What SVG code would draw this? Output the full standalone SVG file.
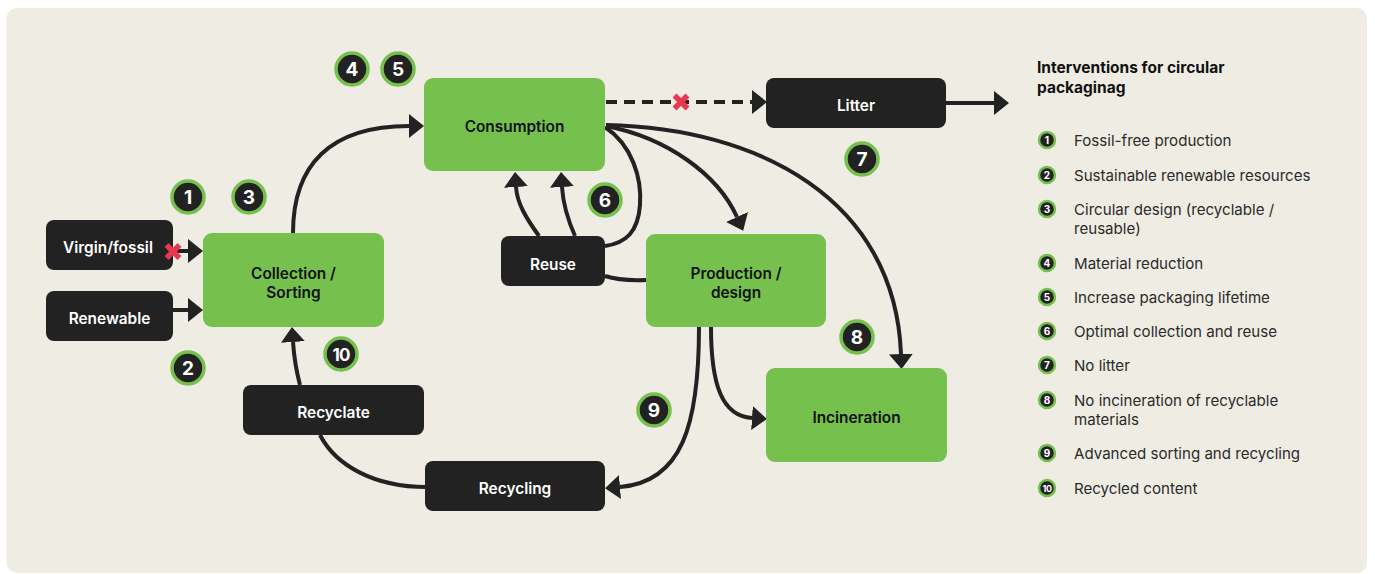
<svg xmlns="http://www.w3.org/2000/svg" width="1375" height="574" viewBox="0 0 1375 574">
  <defs>
    <style>
      .panel { fill: #efede3; }
      .green { fill: #76c04e; }
      .dark { fill: #222222; }
      .lbl { font-family: Inter, "Liberation Sans", sans-serif; font-size: 15.4px; font-weight: 600; text-anchor: middle; }
      .lbl-dark { fill: #ffffff; }
      .lbl-green { fill: #111111; }
      .edge { fill: none; stroke: #222222; stroke-width: 4; }
      .dash { stroke-dasharray: 11 7; }
      .cross { stroke: #e8384f; stroke-width: 5.5; }
      .badge circle { fill: #222222; stroke: #76c04e; stroke-width: 3.5; }
      .badge text { font-family: Inter, "Liberation Sans", sans-serif; font-size: 19px; font-weight: 700; fill: #ffffff; text-anchor: middle; }
      .key circle { fill: #222222; stroke: #76c04e; stroke-width: 2.5; }
      .key text.n { font-family: Inter, "Liberation Sans", sans-serif; font-size: 10px; font-weight: 700; fill: #ffffff; text-anchor: middle; }
      .key text.t { font-family: Inter, "Liberation Sans", sans-serif; font-size: 15.1px; font-weight: 400; fill: #2a2a2a; }
      .title { font-family: Inter, "Liberation Sans", sans-serif; font-size: 15.5px; font-weight: 700; fill: #111111; }
    </style>
    <marker id="arrow" markerUnits="userSpaceOnUse" viewBox="0 0 15 24" markerWidth="15" markerHeight="24" refX="0" refY="12" orient="auto">
      <path d="M0,0 L15,12 L0,24 Z" fill="#222222"/>
    </marker>
  </defs>

  <rect x="0" y="0" width="1375" height="574" fill="#ffffff"/>
  <rect class="panel" x="6.5" y="8" width="1360.5" height="565" rx="11"/>

  <!-- connectors -->
  <g id="connectors">
    <!-- sources into collection -->
    <line class="edge" x1="176" y1="251" x2="188" y2="251" marker-end="url(#arrow)"/>
    <line class="edge" x1="173" y1="310" x2="188" y2="310" marker-end="url(#arrow)"/>
    <!-- collection to consumption -->
    <path class="edge" d="M293,233 C293,165 330,126 409,126" marker-end="url(#arrow)"/>
    <!-- consumption to litter (blocked) -->
    <line class="edge dash" x1="606" y1="102" x2="752" y2="102" marker-end="url(#arrow)"/>
    <!-- litter outflow -->
    <line class="edge" x1="946" y1="103" x2="994" y2="103" marker-end="url(#arrow)"/>
    <!-- consumption loop to reuse -->
    <path class="edge" d="M605,127 C632,145 642,178 640,205 C638,232 626,243 605,246"/>
    <!-- reuse back to consumption -->
    <path class="edge" d="M539,236 C526,218 517,203 516,187" marker-end="url(#arrow)"/>
    <path class="edge" d="M575,236 C567,218 563,203 562,187" marker-end="url(#arrow)"/>
    <!-- reuse to production -->
    <path class="edge" d="M605,276 Q620,281 646,280"/>
    <!-- consumption to production -->
    <path class="edge" d="M606,126 C668,138 718,175 737,217" marker-end="url(#arrow)"/>
    <!-- consumption to incineration -->
    <path class="edge" d="M606,125 C760,128 895,200 901,354" marker-end="url(#arrow)"/>
    <!-- production to recycling -->
    <path class="edge" d="M699,327 C699,425 682,482 620,487" marker-end="url(#arrow)"/>
    <!-- production to incineration -->
    <path class="edge" d="M711,327 C711,385 722,416 752,418" marker-end="url(#arrow)"/>
    <!-- recycling to recyclate -->
    <path class="edge" d="M426,487 C375,487 336,466 320,435"/>
    <!-- recyclate to collection -->
    <path class="edge" d="M300,385 C296,370 294,356 293,342" marker-end="url(#arrow)"/>
  </g>

  <!-- nodes -->
  <g id="virgin">
    <rect class="dark" x="46" y="220" width="127" height="50" rx="8"/>
    <text class="lbl lbl-dark" x="108" y="252.5">Virgin/fossil</text>
  </g>
  <g id="renewable">
    <rect class="dark" x="46" y="291" width="127" height="50" rx="8"/>
    <text class="lbl lbl-dark" x="109.5" y="323.5">Renewable</text>
  </g>
  <g id="collection">
    <rect class="green" x="203" y="233" width="181" height="94" rx="9"/>
    <text class="lbl lbl-green" x="293.5" y="278.5">Collection /</text>
    <text class="lbl lbl-green" x="293.5" y="297.5">Sorting</text>
  </g>
  <g id="consumption">
    <rect class="green" x="424" y="78" width="181" height="93" rx="9"/>
    <text class="lbl lbl-green" x="514.5" y="131.5">Consumption</text>
  </g>
  <g id="litter">
    <rect class="dark" x="766" y="78" width="180" height="50" rx="8"/>
    <text class="lbl lbl-dark" x="856" y="110.5">Litter</text>
  </g>
  <g id="reuse">
    <rect class="dark" x="501" y="236" width="104" height="50" rx="8"/>
    <text class="lbl lbl-dark" x="553" y="269.5">Reuse</text>
  </g>
  <g id="production">
    <rect class="green" x="646" y="234" width="180" height="93" rx="9"/>
    <text class="lbl lbl-green" x="736" y="278.5">Production /</text>
    <text class="lbl lbl-green" x="736" y="297.5">design</text>
  </g>
  <g id="incineration">
    <rect class="green" x="766" y="368" width="181" height="94" rx="9"/>
    <text class="lbl lbl-green" x="856.5" y="422.5">Incineration</text>
  </g>
  <g id="recyclate">
    <rect class="dark" x="243" y="385" width="181" height="50" rx="8"/>
    <text class="lbl lbl-dark" x="333.5" y="417.5">Recyclate</text>
  </g>
  <g id="recycling">
    <rect class="dark" x="425" y="461" width="180" height="50" rx="8"/>
    <text class="lbl lbl-dark" x="515" y="493.5">Recycling</text>
  </g>

  <!-- crosses marking blocked flows, drawn over the node edges -->
  <g id="blocked" class="cross">
    <line x1="166.5" y1="245" x2="179.5" y2="258"/>
    <line x1="179.5" y1="245" x2="166.5" y2="258"/>
    <line x1="674.5" y1="95.5" x2="687.5" y2="108.5"/>
    <line x1="687.5" y1="95.5" x2="674.5" y2="108.5"/>
  </g>

  <!-- numbered intervention markers on the flow -->
  <g id="markers">
    <g class="badge"><circle cx="188" cy="197" r="16"/><text x="188" y="204">1</text></g>
    <g class="badge"><circle cx="188" cy="368" r="16"/><text x="188" y="375">2</text></g>
    <g class="badge"><circle cx="249" cy="197" r="16"/><text x="249" y="204">3</text></g>
    <g class="badge"><circle cx="352" cy="69" r="16"/><text x="352" y="76">4</text></g>
    <g class="badge"><circle cx="398" cy="69" r="16"/><text x="398" y="76">5</text></g>
    <g class="badge"><circle cx="605" cy="200" r="16"/><text x="605" y="207">6</text></g>
    <g class="badge"><circle cx="862" cy="159" r="16"/><text x="862" y="166">7</text></g>
    <g class="badge"><circle cx="857" cy="337" r="16"/><text x="857" y="344">8</text></g>
    <g class="badge"><circle cx="654" cy="410" r="16"/><text x="654" y="417">9</text></g>
    <g class="badge"><circle cx="341" cy="354" r="16"/><text x="341" y="361" style="font-size:17px;letter-spacing:-1px">10</text></g>
  </g>

  <!-- legend -->
  <g id="legend">
    <text class="title" x="1037" y="73">Interventions for circular</text>
    <text class="title" x="1037" y="93">packaginag</text>
    <g class="key">
      <circle cx="1047" cy="140" r="8"/><text class="n" x="1047" y="143.5">1</text>
      <text class="t" x="1074" y="145.5">Fossil-free production</text>
      <circle cx="1047" cy="175" r="8"/><text class="n" x="1047" y="178.5">2</text>
      <text class="t" x="1074" y="180.5">Sustainable renewable resources</text>
      <circle cx="1047" cy="209" r="8"/><text class="n" x="1047" y="212.5">3</text>
      <text class="t" x="1074" y="214.5">Circular design (recyclable /</text>
      <text class="t" x="1074" y="233.5">reusable)</text>
      <circle cx="1047" cy="263" r="8"/><text class="n" x="1047" y="266.5">4</text>
      <text class="t" x="1074" y="268.5">Material reduction</text>
      <circle cx="1047" cy="297" r="8"/><text class="n" x="1047" y="300.5">5</text>
      <text class="t" x="1074" y="302.5">Increase packaging lifetime</text>
      <circle cx="1047" cy="331" r="8"/><text class="n" x="1047" y="334.5">6</text>
      <text class="t" x="1074" y="336.5">Optimal collection and reuse</text>
      <circle cx="1047" cy="365" r="8"/><text class="n" x="1047" y="368.5">7</text>
      <text class="t" x="1074" y="370.5">No litter</text>
      <circle cx="1047" cy="400" r="8"/><text class="n" x="1047" y="403.5">8</text>
      <text class="t" x="1074" y="405.5">No incineration of recyclable</text>
      <text class="t" x="1074" y="424.5">materials</text>
      <circle cx="1047" cy="453" r="8"/><text class="n" x="1047" y="456.5">9</text>
      <text class="t" x="1074" y="458.5">Advanced sorting and recycling</text>
      <circle cx="1047" cy="488" r="8"/><text class="n" x="1047" y="491.5" style="font-size:9px;letter-spacing:-0.5px">10</text>
      <text class="t" x="1074" y="493.5">Recycled content</text>
    </g>
  </g>
</svg>
